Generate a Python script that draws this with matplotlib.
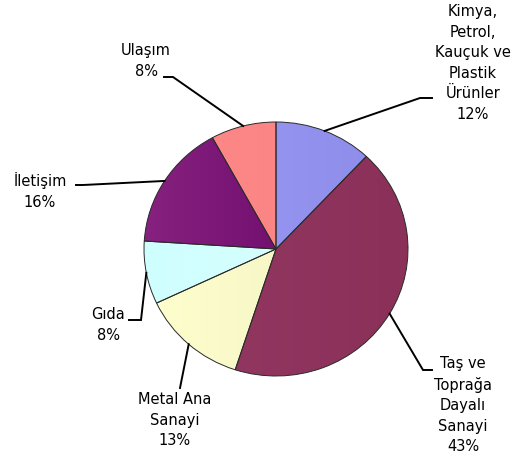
import numpy as np
import matplotlib.pyplot as plt
from matplotlib.colors import to_rgb

# Sector shares (%), clockwise from 12 o'clock
labels = ["Kimya,\nPetrol,\nKauçuk ve\nPlastik\nÜrünler",
          "Taş ve\nToprağa\nDayalı\nSanayi",
          "Metal Ana\nSanayi",
          "Gıda",
          "İletişim",
          "Ulaşım"]
values = [12, 43, 13, 8, 16, 8]
# left (light) / right (dark) shade of each slice
colors_left = ["#9C9CF8", "#953963", "#FFFFCE", "#CFFFFF", "#86217F", "#FF8A8A"]
colors_right = ["#8C8CE8", "#8A3059", "#F0EEC0", "#DCFDFD", "#620062", "#F88080"]

W, H = 512, 457
fig = plt.figure(figsize=(W / 100, H / 100), dpi=100)

# pie ellipse in pixels: x 144..408, y 122..376
cx, cy, rx, ry = 276, 249, 132, 127
pie_ax = fig.add_axes([(cx - rx) / W, (H - cy - ry) / H, 2 * rx / W, 2 * ry / H])
wedges, _ = pie_ax.pie(values, startangle=90, counterclock=False, radius=1,
                       wedgeprops=dict(edgecolor="#2a2a2a", linewidth=0.7))

# horizontal gradient fill for each slice
for w, cl, cr in zip(wedges, colors_left, colors_right):
    t = np.linspace(0, 1, 200)[None, :, None]
    grad = (1 - t) * np.array(to_rgb(cl)) + t * np.array(to_rgb(cr))
    im = pie_ax.imshow(grad, extent=[-1, 1, -1, 1], aspect="auto", zorder=1,
                       interpolation="bilinear")
    im.set_clip_path(w)
    w.set_facecolor("none")
    w.set_zorder(2)
pie_ax.set_aspect("auto")
pie_ax.set_xlim(-1, 1)
pie_ax.set_ylim(-1, 1)
pie_ax.axis("off")

# overlay in pixel coordinates for labels and leader lines
ov = fig.add_axes([0, 0, 1, 1])
ov.set_xlim(0, W)
ov.set_ylim(H, 0)
ov.axis("off")

# label block centre, leader knee and leader end (pixels)
label_pos = [(473, 63), (463, 405), (175, 420), (108, 325), (40, 191), (146, 61)]
knees = [(420, 98), (423, 370), (180, 388), (141, 320), (83, 185), (173, 77)]
ends = [(432, 98), (432, 370), (180, 388), (129, 320), (76, 185), (164, 77)]

total = sum(values)
cum = 0
for lab, v, (lx, ly), kn, en in zip(labels, values, label_pos, knees, ends):
    mid = (cum + v / 2) / total * 2 * np.pi
    cum += v
    sx = cx + rx * np.sin(mid)
    sy = cy - ry * np.cos(mid)
    ov.plot([sx, kn[0], en[0]], [sy, kn[1], en[1]], color="black", lw=1.4,
            solid_joinstyle="miter")
    ov.text(lx, ly, f"{lab}\n{v}%", ha="center", va="center", fontsize=10.5,
            family="DejaVu Sans", linespacing=1.45, color="black")

fig.savefig("out.png", dpi=100)
